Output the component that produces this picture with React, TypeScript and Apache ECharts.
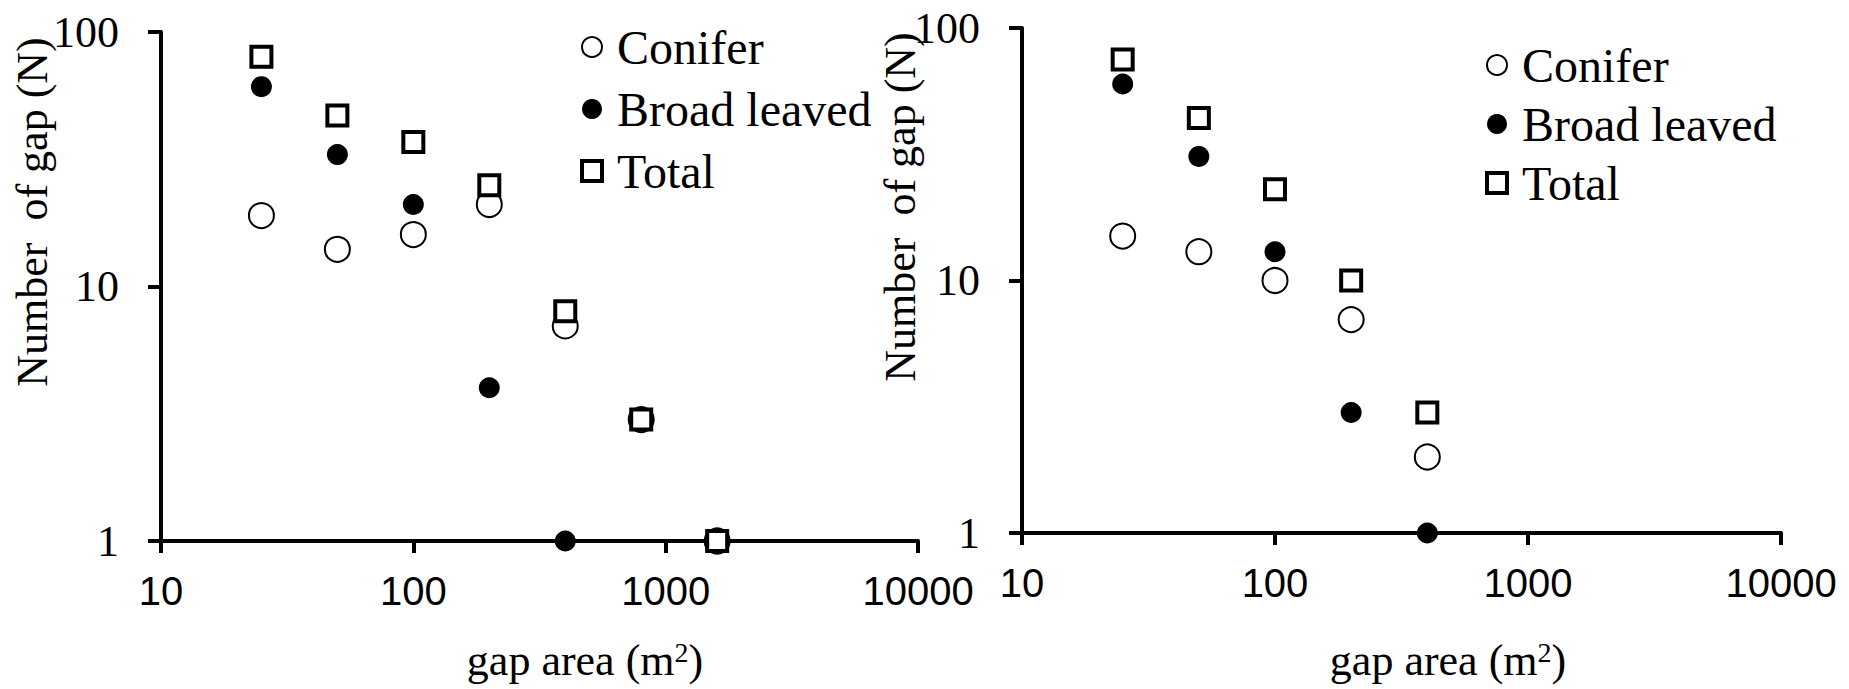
import React, { useEffect, useRef } from "react";
import * as echarts from "echarts";

// ---- data (left panel) ----
const gapAreaLeft = [25, 50, 100, 200, 400, 800, 1600];
const coniferLeft = [19, 14, 16, 21, 7, 3, 1];
const broadLeft = [61, 33, 21, 4, 1, null, null];
const totalLeft = [80, 47, 37, 25, 8, 3, 1];

// ---- data (right panel) ----
const gapAreaRight = [25, 50, 100, 200, 400];
const coniferRight = [15, 13, 10, 7, 2];
const broadRight = [60, 31, 13, 3, 1];
const totalRight = [75, 44, 23, 10, 3];

const seriesNames = ["Conifer", "Broad leaved", "Total"];
const xTicks = [10, 100, 1000, 10000];
const yTicks = [1, 10, 100];

const SERIF = "'Liberation Serif', 'Times New Roman', serif";
const SANS = "'Liberation Sans', Arial, sans-serif";

function pairs(xs: number[], ys: (number | null)[]) {
  const out: number[][] = [];
  xs.forEach((x, i) => {
    const y = ys[i];
    if (y !== null && y !== undefined) out.push([x, y]);
  });
  return out;
}

const styles: any = {
  Conifer: {
    symbol: "circle",
    symbolSize: 25,
    itemStyle: { color: "#ffffff", borderColor: "#000000", borderWidth: 2, opacity: 1 },
  },
  "Broad leaved": {
    symbol: "circle",
    symbolSize: 21,
    itemStyle: { color: "#000000", borderColor: "#000000", borderWidth: 0, opacity: 1 },
  },
  Total: {
    symbol: "rect",
    symbolSize: 20,
    itemStyle: { color: "#ffffff", borderColor: "#000000", borderWidth: 4, opacity: 1 },
  },
};

function makeXAxis(gridIndex: number) {
  return {
    type: "log",
    logBase: 10,
    gridIndex,
    min: 10,
    max: 10000,
    axisLine: { show: true, lineStyle: { color: "#000", width: 4 } },
    axisTick: { show: true, length: 12, lineStyle: { color: "#000", width: 4 } },
    minorTick: { show: false },
    splitLine: { show: false },
    axisLabel: {
      color: "#000",
      fontFamily: SANS,
      fontSize: 40,
      margin: 30,
      formatter: (v: number) => (xTicks.includes(Math.round(v)) ? String(Math.round(v)) : ""),
    },
  };
}

function makeYAxis(gridIndex: number) {
  return {
    type: "log",
    logBase: 10,
    gridIndex,
    min: 1,
    max: 100,
    axisLine: { show: true, lineStyle: { color: "#000", width: 4 } },
    axisTick: { show: true, length: 13, lineStyle: { color: "#000", width: 4 } },
    minorTick: { show: false },
    splitLine: { show: false },
    axisLabel: {
      color: "#000",
      fontFamily: SERIF,
      fontSize: 44,
      margin: 42,
      formatter: (v: number) => (yTicks.includes(Math.round(v)) ? String(Math.round(v)) : ""),
    },
  };
}

function makeLegend(left: number, top: number, gap: number) {
  return {
    data: [
      { name: seriesNames[0], itemStyle: { borderWidth: 2 } },
      { name: seriesNames[1] },
      { name: seriesNames[2], itemStyle: { borderWidth: 4 } },
    ],
    orient: "vertical",
    left,
    top,
    padding: 0,
    itemWidth: 20,
    itemHeight: 20,
    itemGap: gap,
    selectedMode: false,
    textStyle: {
      color: "#000",
      fontFamily: SERIF,
      fontSize: 48,
      lineHeight: 50,
      padding: [0, 0, 0, 10],
    },
  };
}

function xTitle(cx: number, cy: number) {
  return {
    type: "text",
    x: cx,
    y: cy,
    style: {
      text: "{a|gap area (m}{s|2}{a|)}",
      align: "center",
      verticalAlign: "middle",
      fill: "#000",
      rich: {
        a: { fontFamily: SERIF, fontSize: 44, lineHeight: 44, fill: "#000" },
        s: { fontFamily: SERIF, fontSize: 28, lineHeight: 28, fill: "#000", padding: [0, 0, 16, 0] },
      },
    },
  };
}

function yTitle(cx: number, cy: number) {
  return {
    type: "text",
    x: cx,
    y: cy,
    rotation: Math.PI / 2,
    style: {
      text: "Number  of gap (N)",
      align: "center",
      verticalAlign: "middle",
      fill: "#000",
      fontFamily: SERIF,
      fontSize: 44,
    },
  };
}

export default function App() {
  const ref = useRef<HTMLDivElement>(null);

  useEffect(() => {
    if (!ref.current) return;
    const chart = echarts.init(ref.current, undefined, { renderer: "svg" });

    const leftData = [coniferLeft, broadLeft, totalLeft];
    const rightData = [coniferRight, broadRight, totalRight];

    const series: any[] = [];
    seriesNames.forEach((name, i) => {
      series.push({
        name,
        type: "scatter",
        xAxisIndex: 0,
        yAxisIndex: 0,
        clip: false,
        z: 2 + i,
        data: pairs(gapAreaLeft, leftData[i]),
        ...styles[name],
      });
    });
    seriesNames.forEach((name, i) => {
      series.push({
        name,
        type: "scatter",
        xAxisIndex: 1,
        yAxisIndex: 1,
        clip: false,
        z: 2 + i,
        data: pairs(gapAreaRight, rightData[i]),
        ...styles[name],
      });
    });

    chart.setOption({
      animation: false,
      backgroundColor: "#ffffff",
      grid: [
        { left: 161, right: 931, top: 32, bottom: 148 },
        { left: 1022, right: 68, top: 28, bottom: 156 },
      ],
      xAxis: [makeXAxis(0), makeXAxis(1)],
      yAxis: [makeYAxis(0), makeYAxis(1)],
      legend: [makeLegend(580, 22, 12), makeLegend(1485, 40, 9)],
      graphic: [xTitle(585, 660), xTitle(1448, 660), yTitle(32, 212), yTitle(900, 207)],
      series,
    });

    return () => chart.dispose();
  }, []);

  return (
    <div
      ref={ref}
      style={{ position: "fixed", left: 0, top: 0, width: 1849, height: 689, background: "#fff" }}
    />
  );
}
